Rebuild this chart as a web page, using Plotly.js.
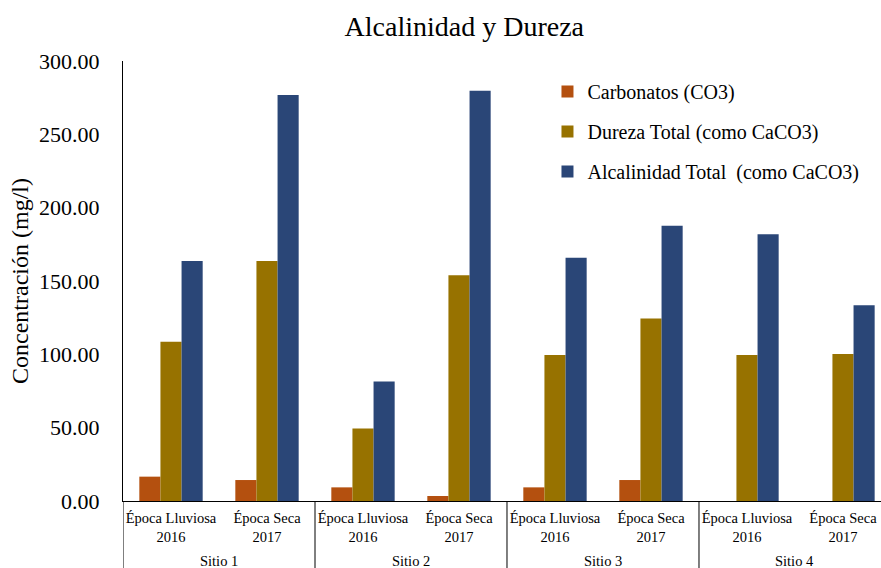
<!DOCTYPE html>
<html>
<head>
<meta charset="utf-8">
<script src="https://cdn.plot.ly/plotly-3.0.1.min.js"></script>
<style>html,body{margin:0;padding:0;background:#fff;}#chart{width:881px;height:568px;}</style>
</head>
<body>
<div id="chart"></div>
<script>
const sites = ["Sitio 1", "Sitio 1", "Sitio 2", "Sitio 2", "Sitio 3", "Sitio 3", "Sitio 4", "Sitio 4"];
const seasons = ["Época Lluviosa<br>2016", "Época Seca<br>2017", "Época Lluviosa<br>2016", "Época Seca<br>2017",
                 "Época Lluviosa<br>2016", "Época Seca<br>2017", "Época Lluviosa<br>2016", "Época Seca<br>2017"];
const carbonatos = [16.6, 14.3, 9.3, 3.4, 9.3, 14.3, null, null];
const dureza = [108.6, 163.6, 49.5, 153.9, 99.5, 124.5, 99.5, 100.2];
const alcalinidad = [163.6, 276.8, 81.4, 279.8, 165.9, 187.7, 181.8, 133.4];
const seriesNames = ["Carbonatos (CO3)", "Dureza Total (como CaCO3)", "Alcalinidad Total&nbsp;&nbsp;(como CaCO3)"];
const yTicks = [0, 50, 100, 150, 200, 250, 300];

const colors = ["#B4500F", "#977200", "#2A4677"];
const font = "'Liberation Serif', 'Times New Roman', serif";
const xIdx = seasons.map((_, i) => i);
const data = [carbonatos, dureza, alcalinidad].map((v, i) => ({
  type: "bar", x: xIdx, y: v, name: seriesNames[i], legendgroup: "g" + i,
  marker: {color: colors[i]}, hoverinfo: "y"
}));

// group labels and dividers derived from the sites array
const groups = [];
sites.forEach((s, i) => {
  if (!groups.length || groups[groups.length - 1].name !== s) groups.push({name: s, start: i, end: i});
  else groups[groups.length - 1].end = i;
});
const annotations = groups.map(g => ({
  text: g.name, x: (g.start + g.end) / 2, xref: "x", y: 0, yref: "paper",
  yanchor: "middle", yshift: -60, showarrow: false,
  font: {family: font, size: 14.5, color: "#000"}
}));
const shapes = groups.map(g => ({
  type: "line", xref: "x", yref: "paper", x0: g.start - 0.5, x1: g.start - 0.5,
  y0: 0, y1: -0.16, line: {color: "#000", width: 1}, layer: "above"
}));

const layout = {
  width: 881, height: 568,
  margin: {l: 123, r: 0, t: 61, b: 67},
  paper_bgcolor: "#fff", plot_bgcolor: "#fff",
  font: {family: font, color: "#000"},
  title: {text: "Alcalinidad y Dureza", font: {family: font, size: 28, color: "#000"}, x: 0.527, xanchor: "center", y: 0.953, yanchor: "middle"},
  barmode: "group", bargap: 0.34, bargroupgap: 0,
  xaxis: {
    range: [-0.5, 7.396], tickvals: xIdx, ticktext: seasons,
    showline: true, linecolor: "#000", linewidth: 1,
    showgrid: false, zeroline: false, ticks: "",
    tickangle: 0, ticklabelstandoff: 4,
    tickfont: {family: font, size: 14.5, color: "#000"}
  },
  yaxis: {
    range: [0, 300], tickvals: yTicks, tickformat: ".2f",
    showline: true, linecolor: "#000", linewidth: 1,
    showgrid: false, zeroline: false, ticks: "",
    ticklabelstandoff: 18,
    tickfont: {family: font, size: 22, color: "#000"},
    title: {text: "Concentración (mg/l)", font: {family: font, size: 24, color: "#000"}, standoff: 3}
  },
  annotations: annotations,
  shapes: shapes,
  legend: {
    x: 0.56, y: 0.975, xanchor: "left", yanchor: "top",
    bgcolor: "rgba(0,0,0,0)", font: {family: font, size: 20, color: "#000"},
    traceorder: "grouped", tracegroupgap: 11, itemwidth: 30
  }
};
Plotly.newPlot("chart", data, layout, {displayModeBar: false, staticPlot: true});
</script>
</body>
</html>
